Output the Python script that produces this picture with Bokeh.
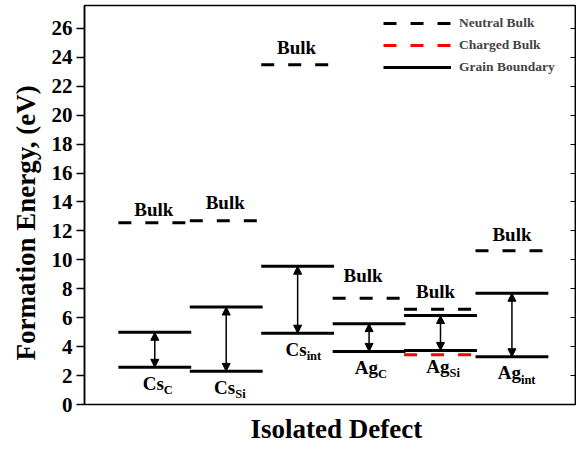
from bokeh.plotting import figure
from bokeh.models import (ColumnDataSource, Range1d, LinearAxis, FixedTicker, Arrow,
                          NormalHead, Legend, LegendItem, Title)
from bokeh.core.properties import value
from bokeh.embed import file_html
from bokeh.resources import INLINE

# ---- data ----
defects = ["Cs_C", "Cs_Si", "Cs_int", "Ag_C", "Ag_Si", "Ag_int"]
species = ["Cs", "Cs", "Cs", "Ag", "Ag", "Ag"]
sites = ["C", "Si", "int", "C", "Si", "int"]
gb_low = [2.57, 2.29, 4.93, 3.67, 3.74, 3.30]       # grain boundary, lower level (eV)
gb_high = [4.99, 6.74, 9.56, 5.59, 6.15, 7.69]      # grain boundary, upper level (eV)
neutral_bulk = [12.56, 12.70, 23.48, 7.35, 6.59, 10.62]
charged_defects = ["Ag_Si"]
charged_bulk = [3.44]
y_ticks = list(range(0, 27, 2))

# ---- layout / style ----
FONT = "Liberation Serif"
HW = 0.51                       # half width of an energy level (x units)
DASH = "13 14"
BASE_FIX = 8                    # svg text baseline correction (px)
bulk_dx = [-1, -1, -1, -6, -5, 0]   # px shift of the "Bulk" labels
bulk_dy = [5, 10, 9, 15, 10, 8]     # px above the dashed line

pos = {d: i + 1 for i, d in enumerate(defects)}
xc = [pos[d] for d in defects]

p = figure(width=576, height=450, output_backend="svg", toolbar_location=None,
           x_range=Range1d(0.016, 6.89), y_range=Range1d(0, 27.58),
           min_border_left=84, min_border_right=1, min_border_top=5,
           min_border_bottom=44)
p.grid.visible = False
p.xaxis.visible = False
p.outline_line_color = "black"
p.outline_line_width = 1.5
p.background_fill_color = "white"

ya = p.yaxis[0]
ya.ticker = FixedTicker(ticks=y_ticks)
ya.major_tick_out = 8
ya.major_tick_in = 0
ya.minor_tick_line_color = None
ya.axis_line_width = 1.5
ya.major_tick_line_width = 1.5
ya.major_label_standoff = 4
ya.major_label_text_font = FONT
ya.major_label_text_font_style = "bold"
ya.major_label_text_font_size = "21px"
ya.major_label_text_color = "black"

ra = LinearAxis(ticker=FixedTicker(ticks=y_ticks), major_tick_in=5, major_tick_out=0,
                minor_tick_line_color=None, major_label_text_color=None,
                major_label_text_font_size="1px",
                major_label_standoff=0, axis_line_width=1.5, major_tick_line_width=1.2)
p.add_layout(ra, "right")

# grain boundary levels
gb_src = ColumnDataSource(dict(
    x0=[x - HW for x in xc] * 2, x1=[x + HW for x in xc] * 2,
    y=gb_low + gb_high))
r_gb = p.segment(x0="x0", x1="x1", y0="y", y1="y", source=gb_src,
                 line_color="black", line_width=3)

# neutral bulk
nb_src = ColumnDataSource(dict(x0=[x - HW for x in xc], x1=[x + HW for x in xc],
                               y=neutral_bulk))
r_nb = p.segment(x0="x0", x1="x1", y0="y", y1="y", source=nb_src,
                 line_color="black", line_width=3, line_dash=DASH)

# charged bulk
cx = [pos[d] for d in charged_defects]
cb_src = ColumnDataSource(dict(x0=[x - HW for x in cx], x1=[x + HW for x in cx],
                               y=charged_bulk))
r_cb = p.segment(x0="x0", x1="x1", y0="y", y1="y", source=cb_src,
                 line_color="#ff0000", line_width=3, line_dash=DASH)

# double-headed arrows between GB levels
ar_src = ColumnDataSource(dict(x=xc, y0=gb_low, y1=gb_high))
p.add_layout(Arrow(x_start="x", y_start="y0", x_end="x", y_end="y1", source=ar_src,
                   line_width=1.5, line_color="black",
                   start=NormalHead(size=8, fill_color="black", line_color="black", line_width=1),
                   end=NormalHead(size=8, fill_color="black", line_color="black", line_width=1)))

# "Bulk" labels
bl_src = ColumnDataSource(dict(x=xc, y=neutral_bulk, t=["Bulk"] * len(xc),
                               dx=bulk_dx, dy=[-d - BASE_FIX for d in bulk_dy]))
p.text(x="x", y="y", text="t", source=bl_src, x_offset="dx", y_offset="dy",
       text_font=value(FONT), text_font_style="bold", text_font_size="19px",
       text_align="center", text_baseline="alphabetic", text_color="black")

# defect labels with subscripts
lab_src = ColumnDataSource(dict(x=xc, y=gb_low, main=species, sub=sites))
p.text(x="x", y="y", text="main", source=lab_src, x_offset=9, y_offset=24 - BASE_FIX,
       text_font=value(FONT), text_font_style="bold", text_font_size="19px",
       text_align="right", text_baseline="alphabetic", text_color="black")
p.text(x="x", y="y", text="sub", source=lab_src, x_offset=9, y_offset=31 - BASE_FIX,
       text_font=value(FONT), text_font_style="bold", text_font_size="12.5px",
       text_align="left", text_baseline="alphabetic", text_color="black")

# legend
legend = Legend(items=[LegendItem(label="Neutral Bulk", renderers=[r_nb]),
                       LegendItem(label="Charged Bulk", renderers=[r_cb]),
                       LegendItem(label="Grain Boundary", renderers=[r_gb])],
                location=(299, 327), glyph_width=68, glyph_height=20, label_height=20,
                spacing=2, padding=0, margin=0, label_standoff=8,
                border_line_color=None, background_fill_alpha=0,
                label_text_font=FONT, label_text_font_style="bold",
                label_text_font_size="13.5px")
p.add_layout(legend)

# axis titles
p.add_layout(Title(text="Formation Energy, (eV)", align="left", offset=44, standoff=16,
                   text_font=FONT, text_font_style="bold", text_font_size="27px",
                   text_color="black"), "left")
p.add_layout(Title(text="Isolated Defect", align="left", offset=166, standoff=14,
                   text_font=FONT, text_font_style="bold", text_font_size="27px",
                   text_color="black"), "below")

open("out.html", "w").write(file_html(p, INLINE))
